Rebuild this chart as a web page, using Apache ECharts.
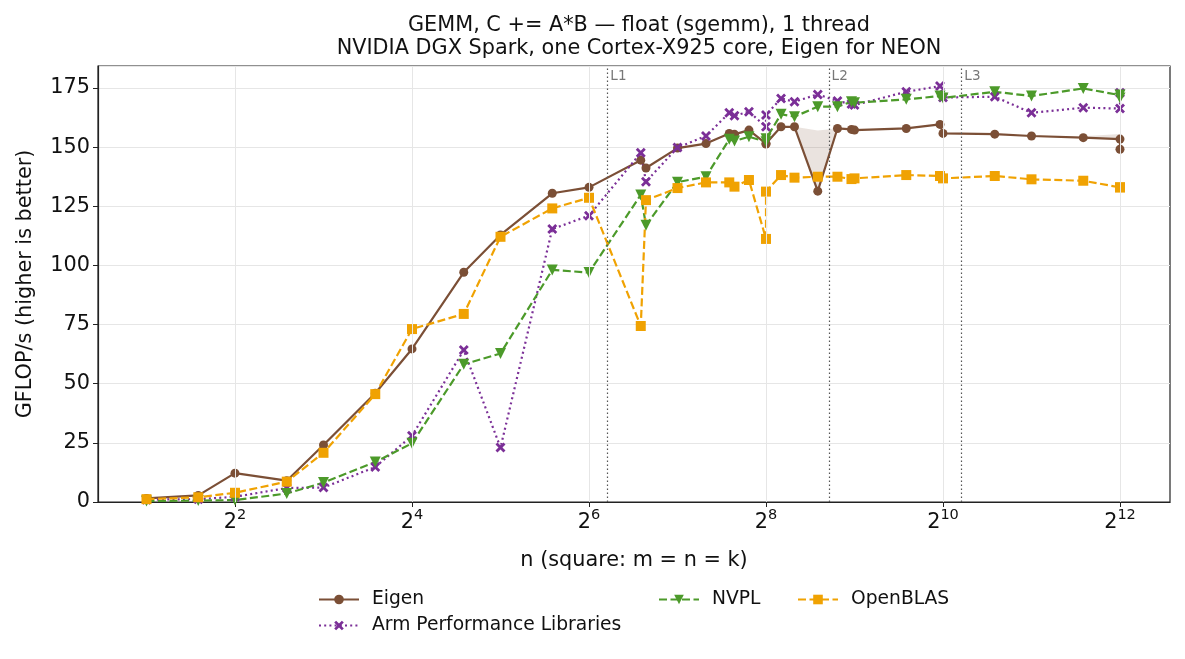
<!DOCTYPE html>
<html>
<head>
<meta charset="utf-8">
<script src="https://cdn.jsdelivr.net/npm/echarts@6/dist/echarts.min.js"></script>
<style>
html, body { margin: 0; background: #fff; }
#chart { width: 1185px; height: 659px; }
</style>
</head>
<body>
<div id="chart"></div>
<script>
// matrix sizes (n = m = k), some sizes measured twice
const sizes = [2, 3, 4, 6, 8, 12, 16, 24, 32, 48, 64, 96, 100, 128, 160, 192, 200, 224, 256, 256,
	288, 320, 384, 448, 500, 512, 768, 1000, 1024, 1536, 2048, 3072, 4096, 4096];

// GFLOP/s
const eigen = [1.5, 2.8, 12.2, 9.0, 24.1, 46.0, 64.7, 97.1, 112.9, 130.5, 133.0, 144.5, 141.2, 149.6, 151.5, 155.8, 155.4,
	157.2, 151.5, 151.3, 158.6, 158.6, 131.4, 157.9, 157.5, 157.2, 157.9, 159.6, 155.8, 155.5, 154.7, 154.0, 153.4, 149.1];
const armpl = [1.0, 1.2, 2.2, 5.9, 6.1, 14.8, 28.0, 64.2, 23.0, 115.4, 121.0, 147.6, 135.4, 149.8, 154.7, 164.5, 163.3,
	165.0, 158.6, 163.6, 170.6, 169.2, 172.3, 169.5, 168.2, 167.8, 173.4, 175.8, 171.0, 171.3, 164.5, 166.7, 166.3, 173.0];
const nvpl = [0.4, 0.6, 0.8, 3.6, 8.2, 16.9, 24.8, 58.2, 62.8, 98.1, 97.0, 129.8, 117.0, 135.2, 137.5, 153.3, 152.6,
	154.4, 152.3, 153.5, 163.9, 162.9, 167.1, 167.1, 169.2, 168.8, 170.2, 171.6, 170.8, 173.4, 171.6, 174.8, 172.0, 170.8];
const openblas = [1.2, 2.0, 3.9, 8.6, 20.8, 45.6, 73.1, 79.5, 112.1, 124.1, 128.6, 74.4, 127.6, 132.7, 135.1, 135.1, 133.3,
	136.1, 111.2, 131.2, 138.2, 137.1, 137.5, 137.5, 136.5, 136.8, 138.2, 137.8, 136.8, 137.8, 136.4, 135.8, 133.0, 133.0];

// Eigen spread (shaded)
const bandSizes = [[320, 384, 448], [3072, 4096]];
const bandLow = [[158.6, 131.4, 157.9], [154.0, 153.4]];
const bandHigh = [[158.6, 157.0, 157.9], [154.6, 155.6]];

// cache sizes -> n where 3 float matrices fill the cache
const cacheBytes = [65536, 2097152, 16777216];
const cacheNames = ['L1', 'L2', 'L3'];

const xTickExp = [2, 4, 6, 8, 10, 12];

const font = 'DejaVu Sans';
const ink = '#111';
const colors = { eigen: '#7b4f36', armpl: '#7b2f97', nvpl: '#4c9a2a', openblas: '#f0a202' };
const xMark = 'path://M2,0 L5,3 L8,0 L10,2 L7,5 L10,8 L8,10 L5,7 L2,10 L0,8 L3,5 L0,2 Z';

const toPts = (vals) => sizes.map((n, i) => [Math.log2(n), vals[i]]);
const cacheN = cacheBytes.map((b) => Math.log2(Math.sqrt(b / 12)));

const lineSeries = (name, vals, color, dash, symbol, symbolSize, rotate) => ({
	name,
	type: 'line',
	data: toPts(vals),
	color,
	symbol,
	symbolSize,
	symbolRotate: rotate || 0,
	showAllSymbol: true,
	lineStyle: { width: 2.2, type: dash, color },
	itemStyle: { color },
	z: 3
});

const legendText = { fontFamily: font, fontSize: 18.7, color: ink, padding: [0, 0, 0, 8] };

const chart = echarts.init(document.getElementById('chart'));
chart.setOption({
	animation: false,
	textStyle: { fontFamily: font },
	title: {
		text: 'GEMM, C += A*B — float (sgemm), 1 thread\nNVIDIA DGX Spark, one Cortex-X925 core, Eigen for NEON',
		left: 634,
		textAlign: 'center',
		top: 9,
		textStyle: { fontFamily: font, fontSize: 20.8, fontWeight: 'normal', color: ink, lineHeight: 23 }
	},
	legend: [
		{
			data: ['Eigen', 'Arm Performance Libraries'],
			orient: 'vertical',
			left: 318,
			top: 590,
			padding: 0,
			itemGap: 7,
			itemWidth: 40,
			itemHeight: 12,
			textStyle: legendText
		},
		{
			data: ['NVPL'],
			left: 658,
			top: 590,
			padding: 0,
			itemWidth: 40,
			itemHeight: 12,
			textStyle: legendText
		},
		{
			data: ['OpenBLAS'],
			left: 797,
			top: 590,
			padding: 0,
			itemWidth: 40,
			itemHeight: 12,
			textStyle: legendText
		}
	],
	grid: { left: 98, right: 15, top: 66, bottom: 157, show: true, borderColor: '#222', borderWidth: 1.2, backgroundColor: 'transparent' },
	xAxis: {
		type: 'value',
		min: 0.452,
		max: 12.565,
		name: 'n (square: m = n = k)',
		nameLocation: 'middle',
		nameGap: 48,
		nameTextStyle: { fontFamily: font, fontSize: 20.8, color: ink },
		axisLine: { show: true, onZero: false, lineStyle: { color: '#222', width: 1.2 } },
		axisTick: { show: true, customValues: xTickExp, length: 5, lineStyle: { color: '#222' } },
		axisLabel: {
			customValues: xTickExp,
			margin: 6,
			formatter: (v) => '{b|2}{e|' + v + '}',
			rich: {
				b: { fontFamily: font, fontSize: 20.8, color: ink },
				e: { fontFamily: font, fontSize: 14.5, color: ink, padding: [0, 0, 14, 0] }
			}
		},
		splitLine: { show: false }
	},
	yAxis: {
		type: 'value',
		min: 0,
		max: 184.3,
		interval: 25,
		name: 'GFLOP/s (higher is better)',
		nameLocation: 'middle',
		nameGap: 62,
		nameTextStyle: { fontFamily: font, fontSize: 20.8, color: ink },
		axisLine: { show: true, lineStyle: { color: '#222', width: 1.2 } },
		axisTick: { show: true, length: 5, lineStyle: { color: '#222' } },
		axisLabel: { fontFamily: font, fontSize: 20.8, color: ink, margin: 8, showMaxLabel: false },
		splitLine: { show: true, lineStyle: { color: '#e6e6e6', width: 1 } }
	},
	series: [
		{
			// vertical grid lines at the labelled ticks
			name: 'grid',
			type: 'line',
			data: [],
			z: 1,
			markLine: {
				silent: true,
				symbol: 'none',
				label: { show: false },
				lineStyle: { color: '#e6e6e6', width: 1, type: 'solid' },
				data: xTickExp.map((e) => ({ xAxis: e }))
			}
		},
		{
			name: 'cache',
			type: 'line',
			data: [],
			z: 2,
			markLine: {
				silent: true,
				symbol: 'none',
				label: { show: false },
				lineStyle: { color: '#555', width: 1.2, type: [1.5, 2.5] },
				data: cacheN.map((x) => ({ xAxis: x }))
			}
		},
		{
			name: 'cacheLabels',
			type: 'scatter',
			symbolSize: 0,
			data: cacheN.map((x, i) => ({ value: [x, 180], name: cacheNames[i] })),
			label: { show: true, position: 'right', distance: 3, formatter: (p) => p.name, fontFamily: font, fontSize: 13.5, color: '#555' },
			z: 2
		},
		{
			name: 'eigenBand',
			type: 'custom',
			z: 2,
			data: bandSizes.map((s, i) => [Math.log2(s[0]), bandLow[i][0]]),
			renderItem: (params, api) => {
				const g = params.dataIndex;
				const top = bandSizes[g].map((n, i) => api.coord([Math.log2(n), bandHigh[g][i]]));
				const bot = bandSizes[g].map((n, i) => api.coord([Math.log2(n), bandLow[g][i]])).reverse();
				return { type: 'polygon', shape: { points: top.concat(bot) }, style: { fill: 'rgba(123,79,54,0.16)' } };
			}
		},
		lineSeries('Eigen', eigen, colors.eigen, 'solid', 'circle', 9),
		lineSeries('Arm Performance Libraries', armpl, colors.armpl, [2, 3.2], xMark, 10),
		lineSeries('NVPL', nvpl, colors.nvpl, [8, 3.5], 'triangle', 11, 180),
		lineSeries('OpenBLAS', openblas, colors.openblas, [8, 3.5], 'rect', 10)
	]
});
</script>
</body>
</html>
